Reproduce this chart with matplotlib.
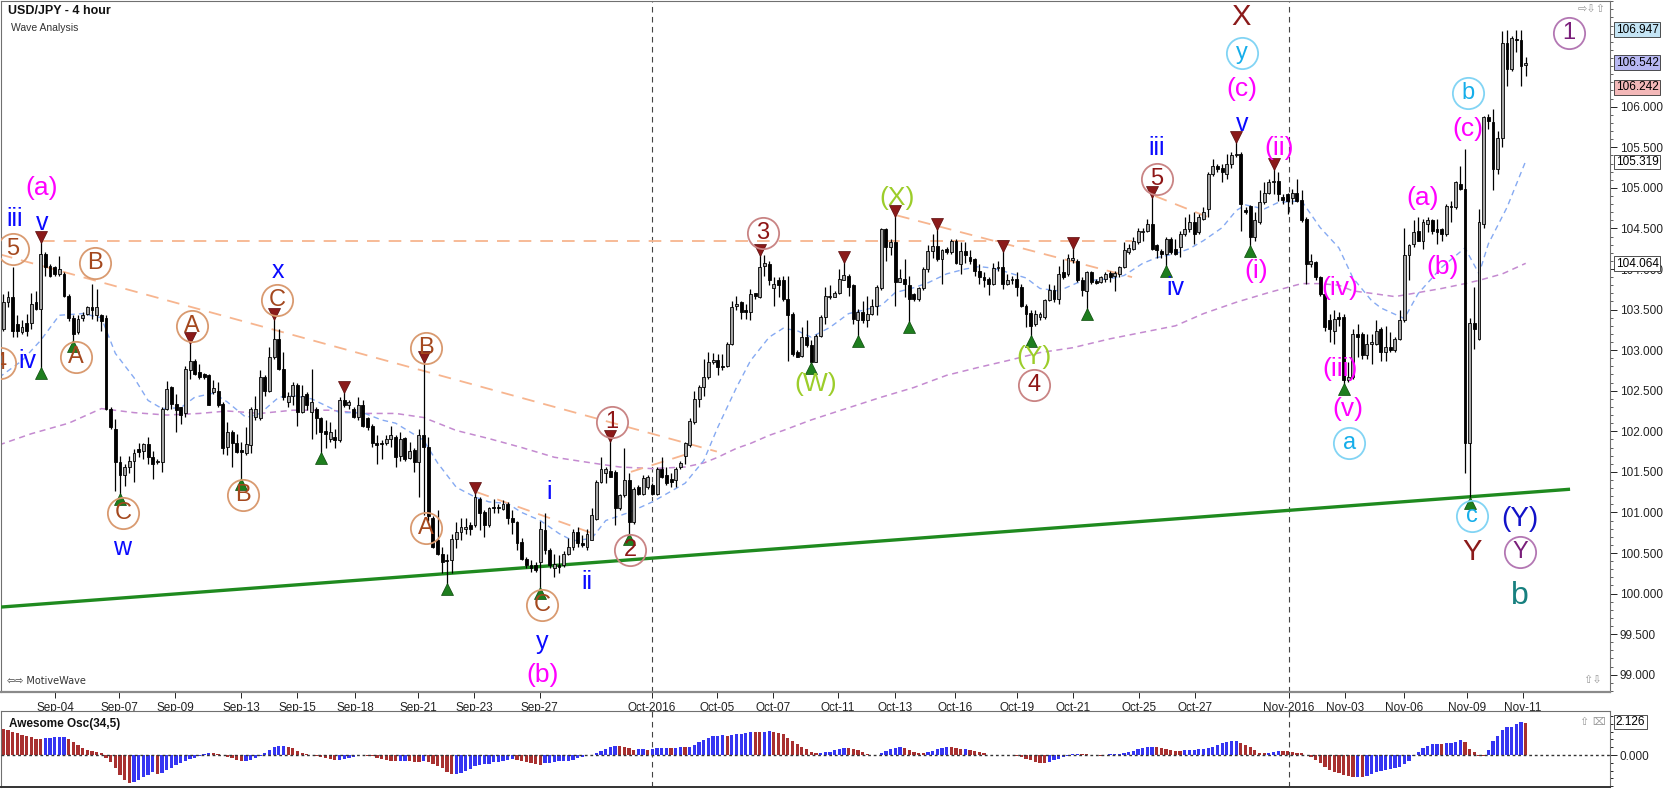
import matplotlib
matplotlib.use("Agg")
import matplotlib.pyplot as plt
import numpy as np
from matplotlib.ticker import FixedLocator, MultipleLocator, FuncFormatter

# ---------------- DATA (USD/JPY 4-hour candles) ----------------
opens = [
103.26,103.59,103.65,103.32,103.22,103.34,103.34,103.59,103.51,104.19,
104.04,104.02,103.94,103.94,103.67,103.40,103.22,103.40,103.45,103.53,
103.43,103.43,103.40,102.28,102.03,101.62,101.46,101.56,101.64,101.78,
101.76,101.84,101.68,101.62,101.62,102.28,102.54,102.34,102.30,102.22,
102.75,102.87,102.73,102.70,102.69,102.48,102.50,102.34,101.81,101.99,
101.85,101.77,101.73,101.83,102.18,102.16,102.67,102.50,102.91,103.14,
102.77,102.36,102.44,102.57,102.24,102.46,102.24,102.28,102.16,102.00,
101.91,101.93,101.89,102.38,102.32,102.28,102.18,102.32,102.16,102.07,
101.85,101.85,101.85,101.91,101.93,101.70,101.92,101.67,101.77,101.62,
101.95,101.81,100.93,100.66,100.49,100.41,100.41,100.67,100.76,100.80,
100.84,100.84,101.17,101.01,100.84,101.06,101.07,101.04,101.11,100.93,
100.88,100.64,100.43,100.35,100.35,100.39,100.78,100.54,100.31,100.35,
100.35,100.49,100.58,100.76,100.62,100.58,100.66,100.92,101.38,101.48,
101.51,101.50,101.05,101.21,101.40,100.88,101.31,101.23,101.31,101.34,
101.23,101.54,101.46,101.41,101.40,101.56,101.70,101.83,102.12,102.40,
102.55,102.67,102.85,102.88,102.81,102.80,103.07,103.54,103.59,103.49,
103.47,103.70,103.65,104.04,104.06,103.77,103.86,103.86,103.63,103.45,
102.98,102.93,103.16,103.06,102.85,103.18,103.41,103.65,103.66,103.71,
103.87,103.92,103.80,103.37,103.47,103.37,103.45,103.54,103.76,104.49,
104.27,104.33,103.84,103.88,103.80,103.69,103.63,103.76,104.00,104.22,
104.28,104.12,104.25,104.21,104.35,104.06,104.22,104.15,104.12,103.98,
103.90,103.88,103.82,104.01,104.03,103.82,103.86,103.88,103.78,103.54,
103.46,103.32,103.41,103.41,103.62,103.74,103.63,103.96,103.94,104.11,
104.10,103.87,103.73,103.96,103.85,103.84,103.88,103.95,103.91,103.94,
104.02,104.21,104.25,104.33,104.45,104.47,104.56,104.29,104.22,104.18,
104.37,104.25,104.27,104.43,104.49,104.58,104.45,104.62,104.74,105.17,
105.27,105.25,105.17,105.29,105.40,105.42,104.73,104.78,104.39,104.58,
104.82,104.94,105.07,105.09,104.89,104.92,104.88,104.94,104.85,104.62,
104.06,104.09,103.90,103.69,103.37,103.24,103.41,103.41,102.63,102.67,
103.20,103.20,102.94,103.08,103.08,103.26,102.98,103.04,103.00,103.14,
103.37,104.17,104.31,104.47,104.35,104.56,104.60,104.49,104.49,104.43,
104.78,104.76,105.05,104.99,101.85,103.34,103.14,104.56,105.87,105.81,
105.23,105.62,106.79,106.46,106.84,106.82,106.52]

highs = [
103.69,103.73,104.02,103.43,103.37,103.45,103.71,103.73,104.35,104.21,
104.06,104.04,104.16,103.96,103.69,103.43,103.43,103.47,103.55,103.82,
103.75,103.45,103.43,102.30,102.15,101.70,101.60,101.70,101.78,101.85,
101.86,101.93,101.76,101.66,102.30,102.62,102.56,102.46,102.30,102.81,
103.10,102.89,102.83,102.72,102.71,102.63,102.61,102.36,102.11,102.01,
101.97,101.87,102.05,102.30,102.44,102.75,102.69,103.04,103.39,103.26,
102.98,102.48,102.61,102.59,102.57,102.48,102.77,102.30,102.18,102.14,
102.11,102.03,102.42,102.50,102.38,102.30,102.42,102.38,102.18,102.09,
101.95,101.89,101.95,102.07,101.95,101.99,101.93,101.87,101.79,102.03,
102.87,101.93,100.95,101.03,100.58,100.49,100.74,100.88,100.93,100.93,
100.88,101.25,101.19,101.03,101.07,101.17,101.11,101.15,101.13,101.03,
100.90,100.68,100.45,100.41,100.39,100.90,100.99,100.56,100.49,100.47,
100.52,100.68,100.80,100.82,100.72,100.80,101.05,101.40,101.68,101.56,
101.89,101.52,101.23,101.79,101.48,101.31,101.34,101.46,101.46,101.36,
101.56,101.68,101.56,101.48,101.56,101.64,101.87,102.16,102.50,102.57,
102.89,102.98,102.96,102.95,102.95,103.10,103.61,103.67,103.61,103.57,
103.75,103.71,104.19,104.17,104.10,103.90,103.90,103.92,103.92,103.47,
103.00,103.28,103.37,103.12,103.20,103.43,103.78,103.80,103.73,104.00,
104.10,103.94,103.82,103.51,103.61,103.67,103.63,103.80,104.51,104.51,
104.37,104.66,104.00,104.12,103.92,103.71,103.78,104.02,104.29,104.43,
104.51,104.25,104.27,104.37,104.37,104.33,104.33,104.23,104.14,104.06,
103.96,103.90,104.08,104.10,104.23,103.94,103.92,103.96,103.81,103.57,
103.49,103.49,103.47,103.63,103.82,103.80,104.04,104.12,104.19,104.27,
104.12,103.90,103.98,103.98,103.88,103.92,103.96,103.98,103.97,104.04,
104.33,104.31,104.39,104.51,104.51,104.62,104.90,104.31,104.25,104.40,
104.39,104.37,104.47,104.64,104.68,104.70,104.68,104.76,105.19,105.36,
105.29,105.29,105.42,105.44,105.58,105.44,104.76,104.79,104.70,104.97,
105.07,105.11,105.25,105.19,104.92,104.94,104.99,105.11,104.97,104.64,
104.19,104.10,103.92,103.71,103.45,103.49,103.47,103.45,102.85,103.26,
103.32,103.22,103.20,103.20,103.37,103.28,103.30,103.22,103.16,103.49,
104.51,104.31,104.60,104.64,104.62,104.64,104.62,104.62,104.51,104.80,
104.84,105.08,105.27,105.48,103.40,103.78,104.74,105.89,105.91,105.97,
105.70,106.93,106.95,106.87,106.95,106.95,106.61]

lows = [
103.24,103.53,103.16,103.16,103.20,103.18,103.26,103.49,102.77,103.92,
103.90,103.92,103.92,103.65,103.36,103.10,103.20,103.36,103.43,103.38,
103.36,103.24,102.26,102.03,101.27,101.21,101.33,101.48,101.37,101.68,
101.66,101.60,101.41,101.60,101.50,102.26,102.28,101.99,102.09,102.18,
102.65,102.69,102.65,102.65,102.32,102.46,102.30,101.72,101.71,101.56,
101.73,101.40,101.71,101.73,102.14,102.14,102.44,102.48,102.89,102.75,
102.38,102.30,102.32,102.07,102.22,102.26,101.91,101.97,101.72,101.79,
101.87,101.79,101.87,102.30,102.28,102.16,102.14,102.05,102.01,101.81,
101.60,101.66,101.83,101.81,101.56,101.64,101.64,101.66,101.50,101.19,
100.97,100.90,100.56,100.47,100.25,100.11,100.25,100.56,100.66,100.74,
100.72,100.82,100.78,100.70,100.82,100.99,100.99,101.03,100.86,100.74,
100.54,100.41,100.31,100.27,100.27,100.06,100.49,100.31,100.21,100.25,
100.33,100.47,100.54,100.58,100.58,100.54,100.66,100.91,101.36,101.36,
101.44,100.84,101.03,101.19,100.72,100.86,101.21,101.21,101.29,101.21,
101.21,101.42,101.34,101.31,101.31,101.54,101.60,101.81,102.09,102.30,
102.44,102.65,102.83,102.69,102.75,102.79,103.06,103.49,103.39,103.39,
103.37,103.63,103.64,103.92,103.80,103.55,103.65,103.61,102.87,102.93,
102.91,102.91,103.04,102.83,102.85,103.16,103.32,103.63,103.65,103.69,
103.86,103.67,103.32,103.16,103.34,103.28,103.43,103.43,103.74,104.10,
104.17,103.55,103.84,103.65,103.34,103.61,103.61,103.74,103.96,104.14,
104.10,103.82,104.19,104.19,104.06,103.94,104.08,104.06,103.92,103.82,
103.78,103.68,103.80,103.98,103.75,103.80,103.82,103.67,103.53,103.28,
103.16,103.30,103.37,103.39,103.60,103.59,103.57,103.88,103.92,104.08,
103.84,103.67,103.49,103.82,103.82,103.83,103.84,103.84,103.73,103.90,
104.01,104.19,104.24,104.31,104.35,104.45,104.23,104.13,104.14,104.02,
104.19,104.17,104.15,104.41,104.45,104.31,104.43,104.60,104.64,105.15,
105.19,105.07,105.11,105.25,105.38,104.47,104.68,104.27,104.35,104.55,
104.80,104.92,104.92,104.84,104.80,104.68,104.80,104.82,104.58,103.82,
104.02,103.86,103.67,103.24,103.10,103.08,103.30,102.57,102.61,102.65,
102.91,102.89,102.89,102.83,103.06,102.87,102.87,102.98,102.98,103.12,
103.35,103.86,104.27,104.35,104.25,104.45,104.43,104.31,104.35,104.41,
104.58,104.74,104.97,101.48,101.17,103.02,103.12,104.51,105.72,104.97,
105.17,105.50,106.26,106.44,106.67,106.26,106.38]

closes = [
103.59,103.65,103.24,103.24,103.28,103.24,103.57,103.51,104.19,104.02,
103.92,103.94,104.00,103.67,103.40,103.20,103.38,103.43,103.53,103.49,
103.53,103.36,102.28,102.05,101.62,101.46,101.56,101.64,101.73,101.74,
101.84,101.68,101.60,101.64,102.28,102.52,102.34,102.26,102.20,102.77,
102.87,102.71,102.67,102.67,102.32,102.53,102.32,101.79,101.99,101.85,
101.75,101.75,101.84,102.28,102.28,102.67,102.50,102.91,103.14,102.77,
102.42,102.44,102.57,102.24,102.44,102.32,102.36,102.16,101.99,101.97,
101.99,101.89,102.38,102.32,102.36,102.18,102.32,102.07,102.05,101.85,
101.83,101.84,101.91,101.95,101.68,101.91,101.66,101.76,101.62,101.95,
101.81,100.95,100.58,100.49,100.39,100.40,100.67,100.76,100.82,100.82,
100.80,101.19,100.99,100.84,101.05,101.05,101.05,101.11,100.93,100.88,
100.62,100.43,100.35,100.31,100.29,100.79,100.54,100.35,100.37,100.33,
100.49,100.58,100.76,100.62,100.60,100.74,100.97,101.38,101.54,101.54,
101.44,101.05,101.21,101.40,100.88,101.29,101.23,101.42,101.44,101.23,
101.54,101.44,101.36,101.38,101.54,101.61,101.85,102.13,102.40,102.55,
102.67,102.85,102.88,102.79,102.79,103.07,103.53,103.57,103.47,103.47,
103.69,103.67,104.03,104.07,103.86,103.82,103.80,103.63,103.43,102.95,
102.92,103.16,103.06,102.85,103.18,103.41,103.67,103.67,103.71,103.88,
103.93,103.78,103.39,103.47,103.37,103.45,103.54,103.78,104.49,104.27,
104.33,103.84,103.89,103.82,103.63,103.63,103.76,104.00,104.22,104.28,
104.12,104.23,104.21,104.35,104.08,104.22,104.17,104.10,103.98,103.90,
103.87,103.81,104.01,104.03,103.82,103.87,103.88,103.78,103.54,103.45,
103.30,103.44,103.45,103.62,103.74,103.63,103.94,103.90,104.13,104.13,
103.86,103.74,103.96,103.84,103.83,103.90,103.94,103.90,103.95,104.03,
104.23,104.26,104.34,104.47,104.47,104.56,104.25,104.24,104.18,104.37,
104.21,104.19,104.43,104.49,104.58,104.43,104.64,104.70,105.17,105.27,
105.23,105.19,105.29,105.40,105.42,104.80,104.70,104.39,104.60,104.82,
104.94,105.07,105.09,104.92,104.85,104.84,104.94,104.84,104.60,104.06,
104.10,103.90,103.69,103.28,103.26,103.39,103.39,102.63,102.67,103.20,
103.16,102.94,103.08,103.10,103.24,102.98,103.04,103.00,103.14,103.37,
104.17,104.29,104.45,104.35,104.58,104.60,104.47,104.45,104.43,104.78,
104.76,105.07,104.99,101.85,103.34,103.26,104.58,105.87,105.83,105.23,
105.62,106.79,106.46,106.85,106.82,106.50,106.54]

# Awesome Oscillator values for the first 33 bars (need history before the chart starts)
ao_start = [1.65,1.61,1.50,1.40,1.29,1.22,1.14,1.05,1.03,1.10,1.12,1.13,1.14,1.15,
            1.01,0.86,0.64,0.43,0.32,0.26,0.21,0.15,-0.20,-0.43,-0.86,-1.29,-1.61,
            -1.78,-1.72,-1.61,-1.44,-1.29,-1.07]
ao_tag_value = 2.126

# fast moving average (blue dashed): bar index, price
blue_ma_idx = [-1,4,8,12,17,21,24,28,31,34,38,41,45,48,52,55,59,62,66,70,72,77,81,84,90,93,97,
               101,104,108,111,115,119,122,126,129,134,139,146,150,153,157,160,164,167,170,173,
               177,181,184,188,191,195,198,202,206,209,212,215,219,222,226,230,233,237,240,244,
               247,251,254,257,261,264,266,270,273,278,282,286,289,293,295,300,303,308,313,316,
               318,322,326]
blue_ma_val = [102.66,102.87,103.12,103.43,103.45,103.40,102.96,102.66,102.38,102.28,102.29,
               102.42,102.47,102.36,102.17,102.22,102.42,102.44,102.40,102.29,102.23,102.23,
               102.14,102.10,101.89,101.61,101.31,101.19,101.13,101.11,101.00,100.90,100.74,
               100.65,100.68,100.90,101.00,101.13,101.36,101.64,102.05,102.54,102.87,103.16,
               103.27,103.24,103.16,103.28,103.45,103.49,103.55,103.71,103.77,103.83,103.94,
               104.00,104.03,104.01,103.96,103.89,103.76,103.73,103.83,103.86,103.88,103.92,
               104.07,104.14,104.19,104.25,104.35,104.51,104.72,104.79,104.74,104.82,104.84,
               104.51,104.26,103.89,103.61,103.52,103.39,103.70,104.02,104.26,103.94,104.31,
               104.76,105.33]

# slow moving average (purple dashed): bar index, price
purple_ma_idx = [-1,6,14,21,28,35,42,48,55,62,70,77,84,90,97,104,111,118,126,132,139,146,150,
                 153,157,160,164,167,173,181,188,195,202,209,215,222,229,237,244,251,257,264,
                 271,278,282,286,289,293,298,302,308,313,316,321,326]
purple_ma_val = [101.83,101.97,102.10,102.28,102.23,102.20,102.22,102.25,102.22,102.26,102.26,
                 102.22,102.22,102.17,102.01,101.91,101.80,101.68,101.61,101.56,101.54,101.56,
                 101.61,101.68,101.79,101.85,101.95,102.01,102.14,102.29,102.42,102.54,102.69,
                 102.79,102.87,102.97,103.03,103.14,103.22,103.30,103.45,103.59,103.71,103.82,
                 103.82,103.80,103.73,103.70,103.66,103.70,103.76,103.82,103.86,103.94,104.07]

# x axis labels and the bar index where each sits
xtick_idx = [11.1,24.8,36.8,50.9,62.9,75.3,88.8,100.8,114.9,138.9,152.8,164.8,178.7,190.9,
             203.8,217.1,229.1,243.2,255.2,275.3,287.3,299.9,313.4,325.4]
xtick_lab = ["Sep-04","Sep-07","Sep-09","Sep-13","Sep-15","Sep-18","Sep-21","Sep-23","Sep-27",
             "Oct-2016","Oct-05","Oct-07","Oct-11","Oct-13","Oct-16","Oct-19","Oct-21","Oct-25",
             "Oct-27","Nov-2016","Nov-03","Nov-06","Nov-09","Nov-11"]
month_lines = [138.9, 275.3]

# swing markers (bars whose high / low is flagged)
peak_bars = [8,40,58,73,90,101,130,162,180,191,200,214,229,246,264,272]
trough_bars = [8,15,25,51,68,95,115,134,173,183,194,220,232,249,267,287,314]

# trend lines: (x0, y0, x1, y1) in bar index / price
green_line = (-0.7, 99.833, 335.5, 101.286)
orange_lines = [(8.3, 104.34, 241.7, 104.34),
                (-0.7, 104.18, 152.8, 101.75),
                (101.4, 101.25, 126.3, 100.74),
                (134.4, 101.50, 147.0, 101.73),
                (191.4, 104.66, 241.7, 103.90),
                (246.6, 104.90, 258.4, 104.63)]

# price tags on the right axis
tags = [(106.947, "#c4e4f4"), (106.542, "#b7b7f2"), (106.242, "#f3b8b8"),
        (105.319, "white"), (104.064, "white")]

# wave labels: text, bar index, price, style
labels = [
    ("(a)", 8.3, 105.00, "mag"), ("iii", 2.5, 104.62, "blue"), ("v", 8.3, 104.57, "blue"),
    ("5", 2.1, 104.25, "c_br"), ("B", 19.6, 104.07, "c_br"), ("A", 15.6, 102.91, "c_br"),
    ("iv", 5.1, 102.87, "blue"), ("4", -0.7, 102.84, "c_br"), ("A", 40.4, 103.30, "c_br"),
    ("C", 25.6, 100.99, "c_br"), ("w", 25.4, 100.56, "blue"), ("x", 58.8, 103.98, "blue"),
    ("C", 58.6, 103.62, "c_br"), ("B", 51.3, 101.21, "c_br"), ("B", 90.5, 103.03, "c_br"),
    ("A", 90.5, 100.81, "c_br"), ("C", 115.4, 99.86, "c_br"), ("y", 115.4, 99.40, "blue"),
    ("(b)", 115.4, 99.00, "mag"), ("i", 116.9, 101.25, "blue"), ("ii", 125.0, 100.14, "blue"),
    ("1", 130.3, 102.11, "c_dr"), ("2", 134.2, 100.54, "c_dr"), ("3", 162.7, 104.44, "c_dr"),
    ("(X)", 191.4, 104.88, "yg"), ("(W)", 174.0, 102.58, "yg"), ("(Y)", 220.7, 102.91, "yg"),
    ("4", 220.7, 102.57, "c_dr"), ("iii", 247.0, 105.49, "blue"), ("5", 247.0, 105.11, "c_dr"),
    ("X", 265.0, 107.11, "dr"), ("y", 265.2, 106.66, "c_cy"), ("(c)", 265.2, 106.22, "mag"),
    ("v", 265.2, 105.79, "blue"), ("(ii)", 273.2, 105.49, "mag"), ("(i)", 268.2, 103.98, "mag"),
    ("iv", 250.9, 103.77, "blue"), ("(iv)", 286.2, 103.76, "mag"), ("(iii)", 286.2, 102.77, "mag"),
    ("(v)", 288.0, 102.28, "mag"), ("a", 288.2, 101.85, "c_cy"), ("(a)", 304.0, 104.88, "mag"),
    ("(b)", 308.3, 104.02, "mag"), ("b", 313.6, 106.17, "c_cy"), ("(c)", 313.6, 105.73, "mag"),
    ("c", 314.5, 100.95, "c_cy"), ("(Y)", 324.8, 100.92, "navy"), ("Y", 314.5, 100.51, "dr"),
    ("Y", 324.8, 100.51, "c_pu"), ("b", 324.8, 99.97, "teal"), ("1", 335.3, 106.91, "c_pu"),
]

# ---------------- FIGURE ----------------
W, H = 1668, 790
fig = plt.figure(figsize=(W / 100, H / 100), dpi=100)
fig.patch.set_facecolor("white")

def rect(x0, y0, x1, y1):
    return [x0 / W, 1 - y1 / H, (x1 - x0) / W, (y1 - y0) / H]

ax = fig.add_axes(rect(1, 1, 1610, 692))
axo = fig.add_axes(rect(1, 711, 1610, 787))

LBL_FONT = ["Liberation Sans", "DejaVu Sans"]
NARROW = ["Liberation Sans Narrow", "Liberation Sans", "DejaVu Sans"]

o = np.array(opens); c = np.array(closes)
h = np.maximum(np.array(highs), np.maximum(o, c))
l = np.minimum(np.array(lows), np.minimum(o, c))
n = len(o)
idx = np.arange(n)

XMIN, XMAX = -0.49, 344.05
for a in (ax, axo):
    a.set_xlim(XMIN, XMAX)
    a.set_facecolor("white")
    for s in a.spines.values():
        s.set_color("#707070")
        s.set_linewidth(0.8)
ax.set_ylim(98.787, 107.303)
axo.spines["bottom"].set_color("#333333")
axo.spines["bottom"].set_linewidth(1.4)

# month separators
for m in month_lines:
    ax.axvline(m, color="#444444", lw=0.8, ls=(0, (5, 4)), zorder=1)
    axo.axvline(m, color="#444444", lw=0.8, ls=(0, (5, 4)), zorder=1)

# moving averages
ax.plot(purple_ma_idx, purple_ma_val, color="#c48ad0", lw=1.1, ls=(0, (4, 3)), zorder=2)
ax.plot(blue_ma_idx, blue_ma_val, color="#86aaf2", lw=1.0, ls=(0, (4, 3)), zorder=2)

# trend lines
for (x0, y0, x1, y1) in orange_lines:
    ax.plot([x0, x1], [y0, y1], color="#f7b58f", lw=1.3, ls=(0, (7, 5)), zorder=2)
ax.plot([green_line[0], green_line[2]], [green_line[1], green_line[3]],
        color="#1f8a1f", lw=2.4, zorder=3, solid_capstyle="butt")

# candles
ax.vlines(idx, l, h, color="black", lw=0.9, zorder=4)
up = c >= o
body_lo = np.minimum(o, c)
body_h = np.maximum(np.abs(c - o), 0.012)
ax.bar(idx[up], body_h[up], bottom=body_lo[up], width=0.62, color="#a3a3a3",
       edgecolor="black", linewidth=0.6, zorder=5)
ax.bar(idx[~up], body_h[~up], bottom=body_lo[~up], width=0.62, color="black",
       edgecolor="black", linewidth=0.6, zorder=5)

# swing markers
ax.plot(peak_bars, h[peak_bars] + 0.05, ls="none", marker="v", ms=8.5,
        mfc="#8b1a1a", mec="#5a0a0a", mew=0.5, zorder=6)
ax.plot(trough_bars, l[trough_bars] - 0.05, ls="none", marker="^", ms=8.5,
        mfc="#1e7e1e", mec="#0a4a0a", mew=0.5, zorder=6)

# wave labels
plain = {"mag": ("#ff00ff", 19), "blue": ("#0a0aff", 18), "yg": ("#9ccd2a", 19),
         "dr": ("#8b1a1a", 21), "navy": ("#1212c8", 20), "teal": ("#17807f", 23)}
circled = {"c_br": ("#a4481e", "#d99a70"), "c_dr": ("#8e1616", "#c98484"),
           "c_cy": ("#15aeea", "#82d4f4"), "c_pu": ("#7a1f7a", "#b377b3")}
for txt, xi, yv, st in labels:
    if st in plain:
        col, fs = plain[st]
        ax.text(xi, yv, txt, color=col, fontsize=fs, ha="center", va="center",
                family=LBL_FONT, zorder=8, clip_on=False)
    else:
        tcol, ecol = circled[st]
        ax.plot([xi], [yv], marker="o", ms=22.5, mfc="none", mec=ecol, mew=1.3,
                zorder=7, clip_on=True)
        ax.text(xi, yv, txt, color=tcol, fontsize=17, ha="center", va="center",
                family=LBL_FONT, zorder=8, clip_on=True)

# price axis (right)
ax.yaxis.tick_right()
ax.yaxis.set_major_locator(FixedLocator(np.arange(99.0, 106.01, 0.5)))
ax.yaxis.set_minor_locator(MultipleLocator(0.1))
ax.yaxis.set_major_formatter(FuncFormatter(lambda v, p: f"{v:.3f}"))
ax.tick_params(axis="y", which="major", direction="out", length=5, width=0.7,
               labelsize=8.5, pad=2, colors="#222222")
ax.tick_params(axis="y", which="minor", direction="out", length=2.5, width=0.6, colors="#444444")
for lab in ax.get_yticklabels():
    lab.set_family(LBL_FONT)

for val, fc in tags:
    ax.text(1.0035, val, f"{val:.3f}", transform=ax.get_yaxis_transform(), fontsize=8.5,
            family=LBL_FONT, va="center", ha="left", zorder=10, clip_on=False,
            bbox=dict(boxstyle="square,pad=0.12", fc=fc, ec="#333333", lw=0.6))

# x axis
ax.set_xticks(xtick_idx)
ax.set_xticklabels(xtick_lab)
ax.tick_params(axis="x", direction="out", length=4, width=0.7, pad=3, labelsize=8.5,
               colors="#222222")
for lab in ax.get_xticklabels():
    lab.set_family(NARROW)
ax.spines["bottom"].set_linewidth(1.6)
ax.spines["bottom"].set_color("#8a8a8a")

# Awesome oscillator
med = (h + l) / 2.0
ao = np.zeros(n)
ao[:len(ao_start)] = ao_start
for i in range(len(ao_start), n):
    ao[i] = med[i - 4:i + 1].mean() - med[i - 33:i + 1].mean()
ao_col = ["#a83030"] + ["#3535f2" if ao[i] > ao[i - 1] else "#a83030" for i in range(1, n)]
axo.bar(idx, ao, width=0.7, color=ao_col, zorder=3)
axo.axhline(0, color="#333333", lw=1.0, ls=(0, (2, 2)), zorder=4)
axo.set_ylim(-2.06, 2.835)
axo.set_xticks([])
axo.yaxis.tick_right()
axo.set_yticks([0.0])
axo.set_yticklabels(["0.000"])
axo.yaxis.set_minor_locator(MultipleLocator(0.5))
axo.tick_params(axis="y", which="major", direction="out", length=5, width=0.7,
                labelsize=8.5, pad=2, colors="#222222")
axo.tick_params(axis="y", which="minor", direction="out", length=2.5, width=0.6)
for lab in axo.get_yticklabels():
    lab.set_family(LBL_FONT)
axo.text(1.0035, ao_tag_value, f"{ao_tag_value:.3f}", transform=axo.get_yaxis_transform(),
         fontsize=8.5, family=LBL_FONT, va="center", ha="left", zorder=10, clip_on=False,
         bbox=dict(boxstyle="square,pad=0.12", fc="white", ec="#333333", lw=0.6))
axo.text(0.005, 0.83, "Awesome Osc(34,5)", transform=axo.transAxes, fontsize=8.5,
         weight="bold", family=NARROW, va="center", ha="left", color="#111111")

# header / footer texts
fig.text(8 / W, 1 - 11 / H, "USD/JPY - 4 hour", fontsize=9, weight="bold",
         family=LBL_FONT, va="center", ha="left", color="#111111")
fig.text(11 / W, 1 - 28 / H, "Wave Analysis", fontsize=7.5, family=LBL_FONT,
         va="center", ha="left", color="#333333")
fig.text(7 / W, 1 - 681 / H, "\u21e6\u21e8 MotiveWave", fontsize=7,
         family=["Liberation Sans Narrow", "DejaVu Sans"], va="center", ha="left",
         color="#333333")
fig.text(1578 / W, 1 - 9 / H, "\u21e8\u21e9\u21e7", fontsize=8, family=["DejaVu Sans"],
         va="center", ha="left", color="#999999")
fig.text(1583 / W, 1 - 680 / H, "\u21e7\u21e9", fontsize=8, family=["DejaVu Sans"],
         va="center", ha="left", color="#999999")
fig.text(1580 / W, 1 - 722 / H, "\u21e7 \u2327", fontsize=8, family=["DejaVu Sans"],
         va="center", ha="left", color="#999999")

fig.savefig("out.png", dpi=100, facecolor="white")
